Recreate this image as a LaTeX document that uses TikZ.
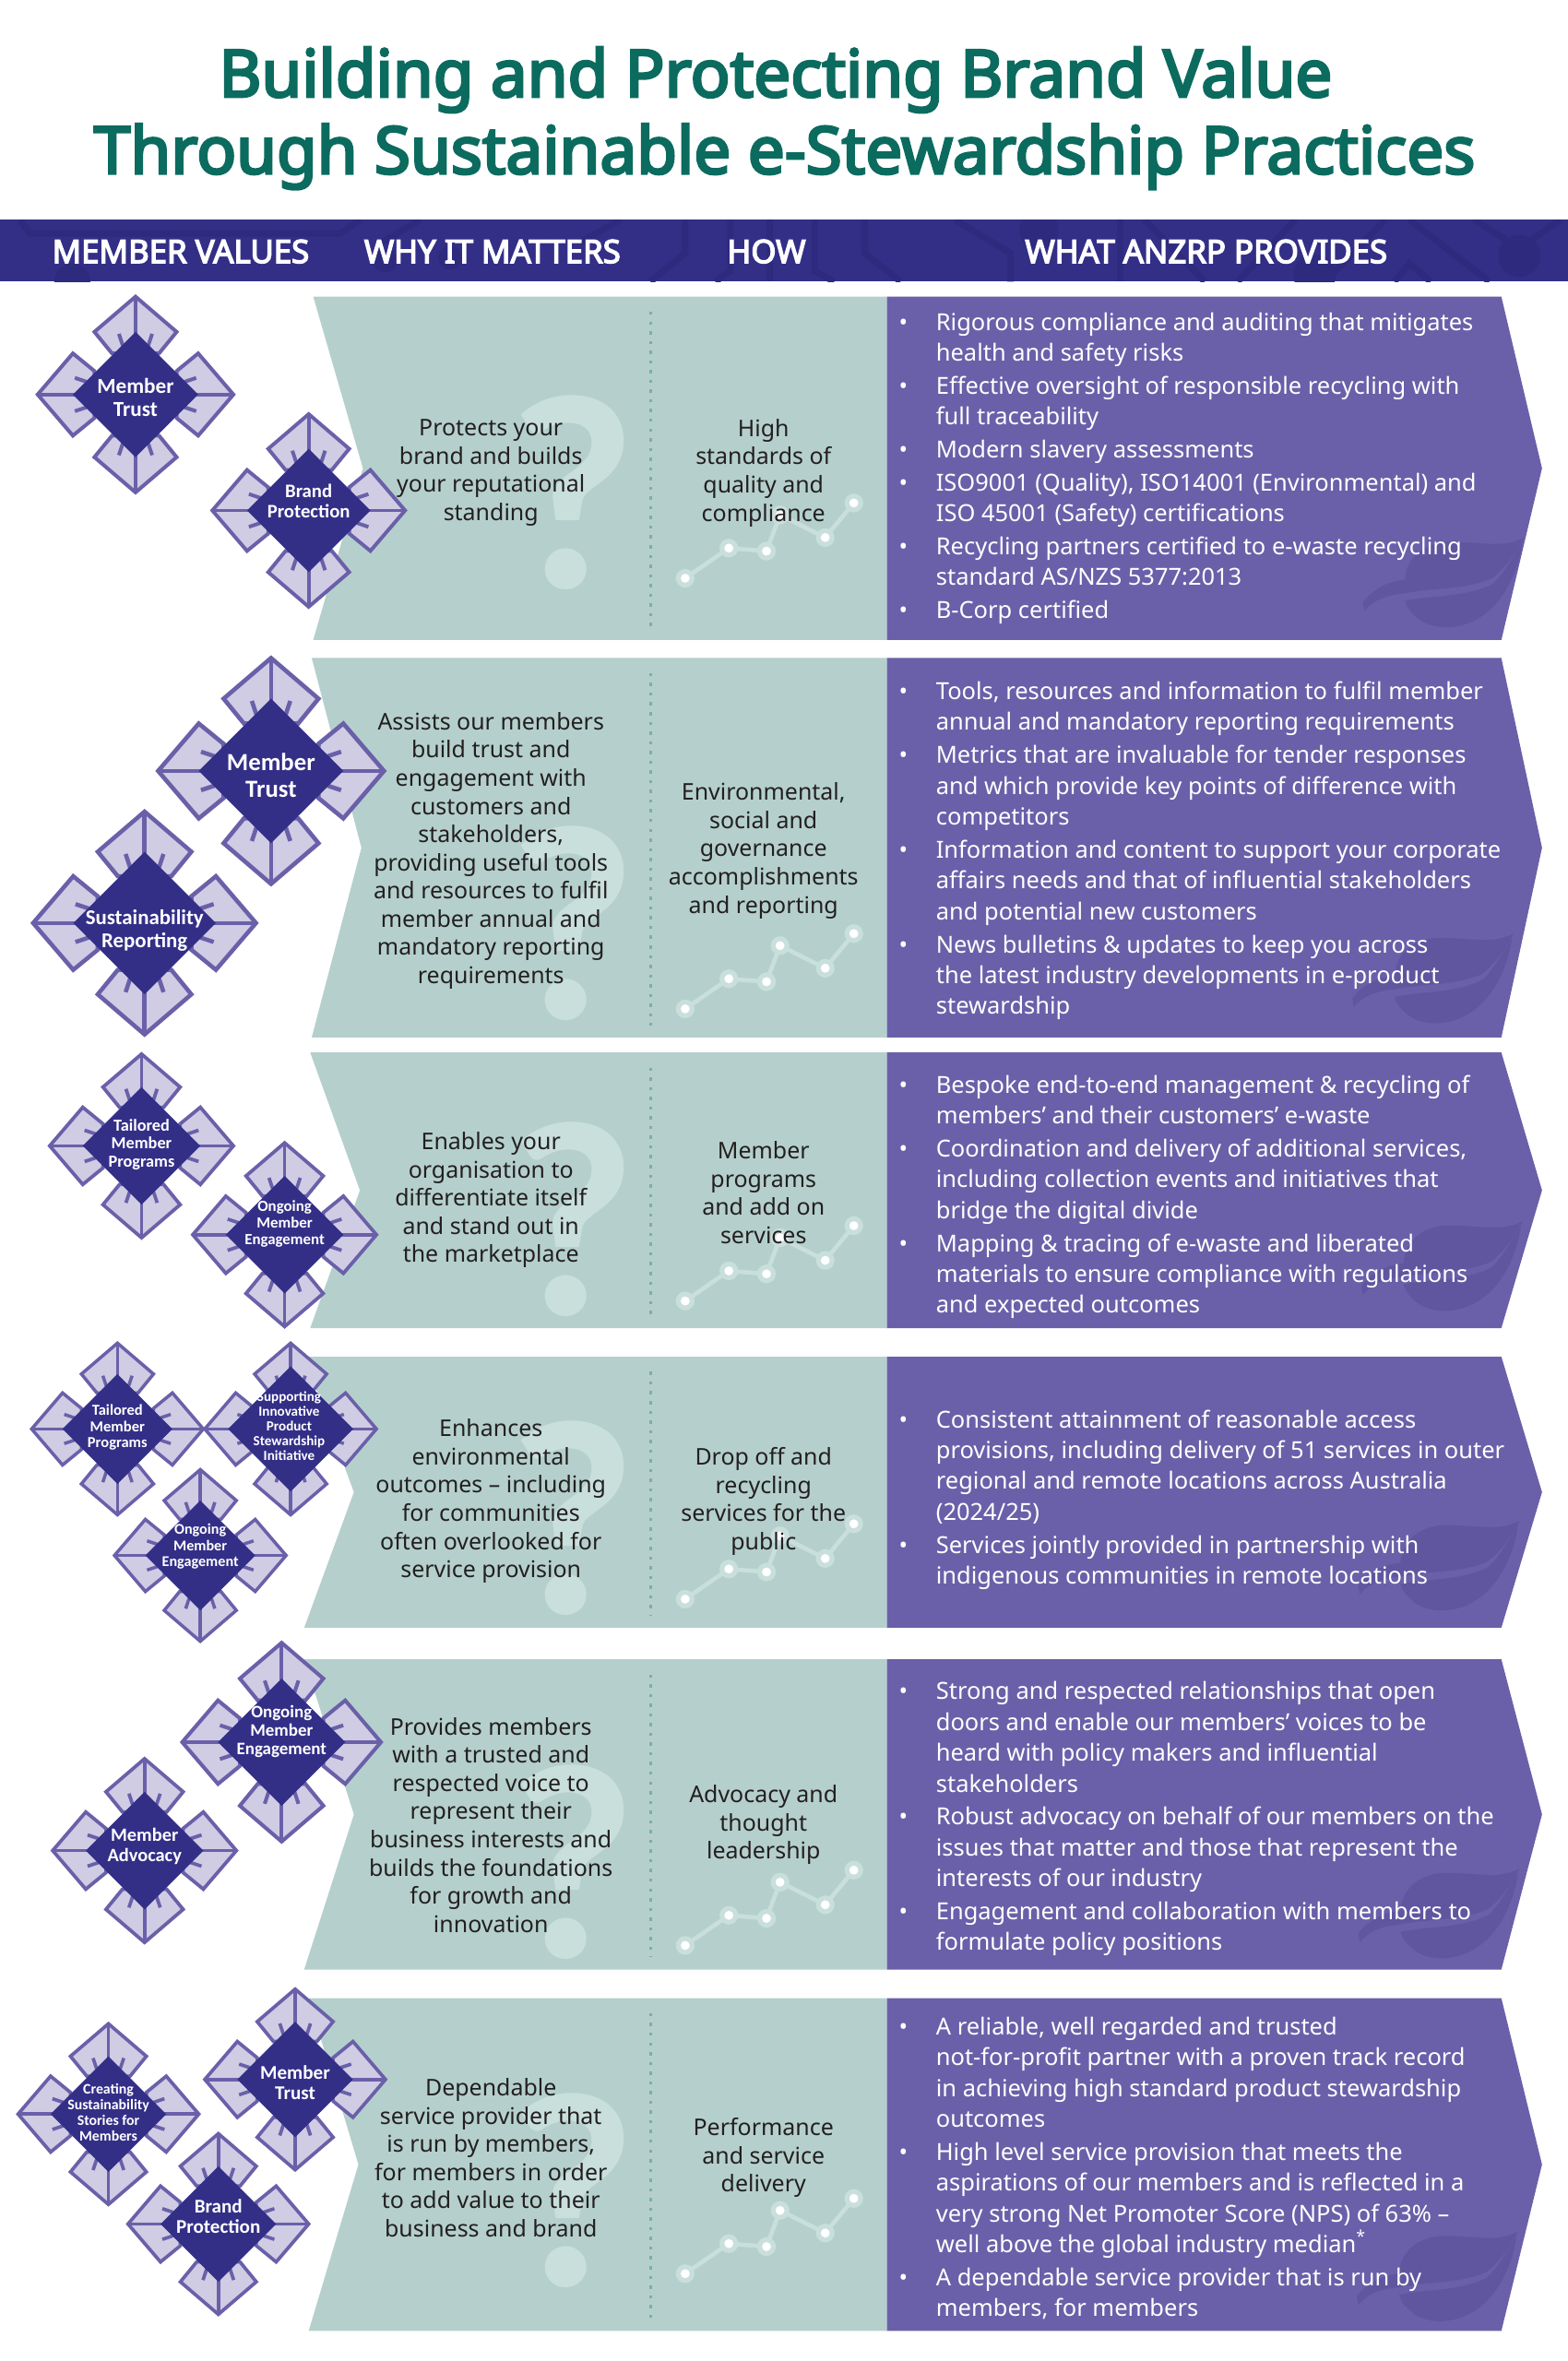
\documentclass[tikz,border=0pt]{standalone}
\usepackage{fontspec}
\setmainfont{Noto Sans}
\newfontfamily\heavyfont[FakeBold=4]{Noto Sans}
\newfontfamily\badgefont{Carlito}
\usetikzlibrary{positioning}

\definecolor{titlegreen}{HTML}{0B6B5E}
\definecolor{bandblue}{HTML}{332F87}
\definecolor{banddark}{HTML}{2E2A7E}
\definecolor{rowgreen}{HTML}{B5D0CC}
\definecolor{rowpale}{HTML}{C9DFDB}
\definecolor{rowdots}{HTML}{79B0A6}
\definecolor{rowpurple}{HTML}{6A60A9}
\definecolor{leafpurple}{HTML}{60569F}
\definecolor{petalfill}{HTML}{CFCCE4}
\definecolor{inktext}{HTML}{231F20}

\tikzset{
	whytext/.style={align=center,text=inktext,font=\fontsize{7.1}{8.7}\selectfont},
	listtext/.style={anchor=west,align=left,text=white,font=\fontsize{7.25}{9.5}\selectfont},
	headtext/.style={text=white,font=\heavyfont\fontsize{9.9}{12}\selectfont},
	titletext/.style={text=titlegreen,font=\heavyfont\fontsize{20.2}{24}\selectfont},
	qmark/.style={text=rowpale,font=\badgefont\fontsize{86}{86}\bfseries\selectfont},
	badgetext/.style={align=center,text=white,inner sep=0pt},
}

\newcommand{\blt}{\llap{\textbullet\hspace{8.7pt}}}

% name, centre, radius, font size, text centre, text
\newcommand{\badge}[7][0.64]{%
	\begin{scope}[shift={#3},scale=#4]
		\foreach \a in {0,90,180,270}{
			\begin{scope}[rotate=\a]
				\filldraw[fill=petalfill,draw=rowpurple,line width={0.0175pt*#4},line join=miter] (0,-1) -- (.42,-.64) -- (.24,-.42) -- (-.24,-.42) -- (-.42,-.64) -- cycle;
				\draw[rowpurple,line width={0.0175pt*#4}] (0,-1) -- (0,-.4);
				\draw[rowpurple,line width={0.0175pt*#4}] (.13,-.5) -- (.17,-.62);
				\draw[rowpurple,line width={0.0175pt*#4}] (-.13,-.5) -- (-.17,-.62);
			\end{scope}
		}
		\fill[bandblue] (0,-#1) -- (#1,0) -- (0,#1) -- (-#1,0) -- cycle;
	\end{scope}
	\pgfmathsetmacro{\lead}{#5*1.07}
	\node[badgetext,font=\badgefont\fontsize{#5}{\lead}\bfseries\selectfont] (#2) at #6 {#7};
}

% left x, top, bottom of one row
\newcommand{\rowband}[3]{%
	\fill[rowgreen] (#1,#2) -- (589,#2) -- (589,#3) -- (#1,#3) -- ({#1+33},{(#2+#3)/2}) -- cycle;
	\fill[rowpurple] (589,#2) -- (997,#2) -- (1024,{(#2+#3)/2}) -- (997,#3) -- (589,#3) -- cycle;
	\draw[rowdots,line width=1pt,dotted] (432,#2+10) -- (432,#3-8);
}

\newcommand{\trend}[1]{%
	\begin{scope}[shift={#1}]
		\draw[rowpale,line width=1.3pt] (0,0) -- (29,-20) -- (54,-18) -- (63,-42) -- (93,-27) -- (112,-50);
		\foreach \p in {(0,0),(29,-20),(54,-18),(63,-42),(93,-27),(112,-50)}{
			\fill[rowpale] \p circle (6.2);
			\fill[white] \p circle (3);
		}
	\end{scope}
}

% leaf, placed by its tip
\newcommand{\leaf}[1]{%
	\begin{scope}[shift={#1}]
		\fill[leafpurple] (0,0) .. controls (-15,8) and (-30,2) .. (-53,3) .. controls (-68,5) and (-78,14) .. (-79,28) .. controls (-90,29) and (-100,34) .. (-107,43) -- (-106,49) .. controls (-100,41) and (-90,38) .. (-79,37) .. controls (-60,33) and (-40,35) .. (-21,27) .. controls (-12,20) and (-5,10) .. cycle;
		\fill[leafpurple] (-79,42) .. controls (-60,38) and (-40,40) .. (-21,31) .. controls (-14,25) and (-8,14) .. (-1,3) .. controls (-3,20) and (-12,40) .. (-25,50) .. controls (-40,62) and (-60,62) .. (-70,54) .. controls (-75,50) and (-78,46) .. cycle;
	\end{scope}
}

\begin{document}
\begin{tikzpicture}[x=0.01633cm,y=-0.01633cm]
	\useasboundingbox (0,0) rectangle (1041,1568);
	\fill[white] (0,0) rectangle (1041,1568);

	\node[titletext] (title1) at (515,53) {Building and Protecting Brand Value};
	\node[titletext] (title2) at (521,104) {Through Sustainable e-Stewardship Practices};

	% header band with circuit lines
	\fill[bandblue] (0,146) rectangle (1041,187);
	\begin{scope}[banddark,line width=2pt]
		\clip (0,146) rectangle (1041,187);
		\draw (13,146) -- (20,155) -- (226,155) -- (239,146);
		\draw (279,146) -- (252,162);
		\draw (412,146) -- (385,161);
		\draw (455,146) -- (455,168) -- (432,187);
		\draw (485,146) -- (485,180) -- (475,187);
		\draw (511,146) -- (511,187);
		\draw (541,146) -- (541,180) -- (554,187);
		\draw (574,146) -- (574,168) -- (598,187);
		\draw (634,146) -- (671,168) -- (671,187);
		\draw (744,146) -- (744,187);
		\draw (760,146) -- (800,187);
		\draw (860,146) -- (822,187);
		\draw (920,146) -- (880,187);
		\draw (926,187) -- (936,175) -- (950,187);
		\draw (936,146) -- (989,187);
		\draw (979,146) -- (1009,165) -- (1036,146);
		\fill (48,187) circle (12);
		\fill (256,173) circle (8);
		\fill (299,171) circle (8);
		\fill (690,153) circle (13);
		\fill (873,183) circle (14);
		\fill (1009,170) circle (14);
	\end{scope}
	\node[headtext] (head1) at (120,167) {MEMBER VALUES};
	\node[headtext] (head2) at (327,167) {WHY IT MATTERS};
	\node[headtext] (head3) at (509,167) {HOW};
	\node[headtext] (head4) at (801,167) {WHAT ANZRP PROVIDES};

	% rows
	\rowband{208}{197}{425}
	\rowband{207}{437}{689}
	\rowband{206}{699}{882}
	\rowband{202}{901}{1081}
	\rowband{202}{1102}{1308}
	\rowband{205}{1327}{1548}

	\node[qmark] (q1) at (380,327) {?};
	\node[qmark] (q2) at (380,613) {?};
	\node[qmark] (q3) at (380,810) {?};
	\node[qmark] (q4) at (380,1008) {?};
	\node[qmark] (q5) at (380,1237) {?};
	\node[qmark] (q6) at (380,1455) {?};

	\trend{(455,384)}
	\trend{(455,670)}
	\trend{(455,864)}
	\trend{(455,1062)}
	\trend{(455,1292)}
	\trend{(455,1510)}

	\leaf{(1012,357)}
	\leaf{(1005,620)}
	\leaf{(1011,811)}
	\leaf{(1009,1010)}
	\leaf{(1009,1241)}
	\leaf{(1008,1482)}

	% why it matters
	\node[whytext] (why1) at (326,314) {Protects your\\brand and builds\\your reputational\\standing};
	\node[whytext] (why2) at (326,565) {Assists our members\\build trust and\\engagement with\\customers and\\stakeholders,\\providing useful tools\\and resources to fulfil\\member annual and\\mandatory reporting\\requirements};
	\node[whytext] (why3) at (326,797) {Enables your\\organisation to\\differentiate itself\\and stand out in\\the marketplace};
	\node[whytext] (why4) at (326,997) {Enhances\\environmental\\outcomes -- including\\for communities\\often overlooked for\\service provision};
	\node[whytext] (why5) at (326,1212) {Provides members\\with a trusted and\\respected voice to\\represent their\\business interests and\\builds the foundations\\for growth and\\innovation};
	\node[whytext] (why6) at (326,1433) {Dependable\\service provider that\\is run by members,\\for members in order\\to add value to their\\business and brand};

	% how
	\node[whytext] (how1) at (507,314) {High\\standards of\\quality and\\compliance};
	\node[whytext] (how2) at (507,565) {Environmental,\\social and\\governance\\accomplishments\\and reporting};
	\node[whytext] (how3) at (507,792) {Member\\programs\\and add on\\services};
	\node[whytext] (how4) at (507,997) {Drop off and\\recycling\\services for the\\public};
	\node[whytext] (how5) at (507,1212) {Advocacy and\\thought\\leadership};
	\node[whytext] (how6) at (507,1433) {Performance\\and service\\delivery};

	% what anzrp provides
	\node[listtext] (list1) at (614,311) {\blt Rigorous compliance and auditing that mitigates\\health and safety risks\\[0.7pt]
		\blt Effective oversight of responsible recycling with\\full traceability\\[0.7pt]
		\blt Modern slavery assessments\\[0.7pt]
		\blt ISO9001 (Quality), ISO14001 (Environmental) and\\ISO 45001 (Safety) certifications\\[0.7pt]
		\blt Recycling partners certified to e-waste recycling\\standard AS/NZS 5377:2013\\[0.7pt]
		\blt B-Corp certified};
	\node[listtext] (list2) at (614,565) {\blt Tools, resources and information to fulfil member\\annual and mandatory reporting requirements\\[0.7pt]
		\blt Metrics that are invaluable for tender responses\\and which provide key points of difference with\\competitors\\[0.7pt]
		\blt Information and content to support your corporate\\affairs needs and that of influential stakeholders\\and potential new customers\\[0.7pt]
		\blt News bulletins \& updates to keep you across\\the latest industry developments in e-product\\stewardship};
	\node[listtext] (list3) at (614,795) {\blt Bespoke end-to-end management \& recycling of\\members' and their customers' e-waste\\[0.7pt]
		\blt Coordination and delivery of additional services,\\including collection events and initiatives that\\bridge the digital divide\\[0.7pt]
		\blt Mapping \& tracing of e-waste and liberated\\materials to ensure compliance with regulations\\and expected outcomes};
	\node[listtext] (list4) at (614,996) {\blt Consistent attainment of reasonable access\\provisions, including delivery of 51 services in outer\\regional and remote locations across Australia\\(2024/25)\\[0.7pt]
		\blt Services jointly provided in partnership with\\indigenous communities in remote locations};
	\node[listtext] (list5) at (614,1208) {\blt Strong and respected relationships that open\\doors and enable our members' voices to be\\heard with policy makers and influential\\stakeholders\\[0.7pt]
		\blt Robust advocacy on behalf of our members on the\\issues that matter and those that represent the\\interests of our industry\\[0.7pt]
		\blt Engagement and collaboration with members to\\formulate policy positions};
	\node[listtext] (list6) at (614,1440) {\blt A reliable, well regarded and trusted\\not-for-profit partner with a proven track record\\in achieving high standard product stewardship\\outcomes\\[0.7pt]
		\blt High level service provision that meets the\\aspirations of our members and is reflected in a\\very strong Net Promoter Score (NPS) of 63\% --\\well above the global industry median\textsuperscript{*}\\[0.7pt]
		\blt A dependable service provider that is run by\\members, for members};

	% member values
	\badge{trust1}{(90,262)}{65}{6.6}{(90,264)}{Member\\Trust}
	\badge{brand1}{(205,339)}{64}{5.9}{(205,333)}{Brand\\Protection}
	\badge{trust2}{(180,512)}{75}{7.6}{(180,515)}{Member\\Trust}
	\badge{report2}{(96,613)}{74}{6.5}{(96,618)}{Sustainability\\Reporting}
	\badge{tailor3}{(94,761)}{61}{5.2}{(94,760)}{Tailored\\Member\\Programs}
	\badge{ongoing3}{(189,820)}{61}{4.8}{(189,813)}{Ongoing\\Member\\Engagement}
	\badge{tailor4}{(78,949)}{57}{4.7}{(78,948)}{Tailored\\Member\\Programs}
	\badge[0.73]{support4}{(193,949)}{57}{4.3}{(192,947)}{Supporting\\Innovative\\Product\\Stewardship\\Initiative}
	\badge{ongoing4}{(133,1033)}{57}{4.6}{(133,1027)}{Ongoing\\Member\\Engagement}
	\badge{ongoing5}{(187,1157)}{66}{5.4}{(187,1150)}{Ongoing\\Member\\Engagement}
	\badge{advocacy5}{(96,1229)}{61}{5.8}{(96,1226)}{Member\\Advocacy}
	\badge{stories6}{(72,1404)}{60}{4.5}{(72,1403)}{Creating\\Sustainability\\Stories for\\Members}
	\badge{trust6}{(196,1381)}{60}{6}{(196,1383)}{Member\\Trust}
	\badge{brand6}{(145,1477)}{60}{6}{(145,1472)}{Brand\\Protection}
\end{tikzpicture}
\end{document}
